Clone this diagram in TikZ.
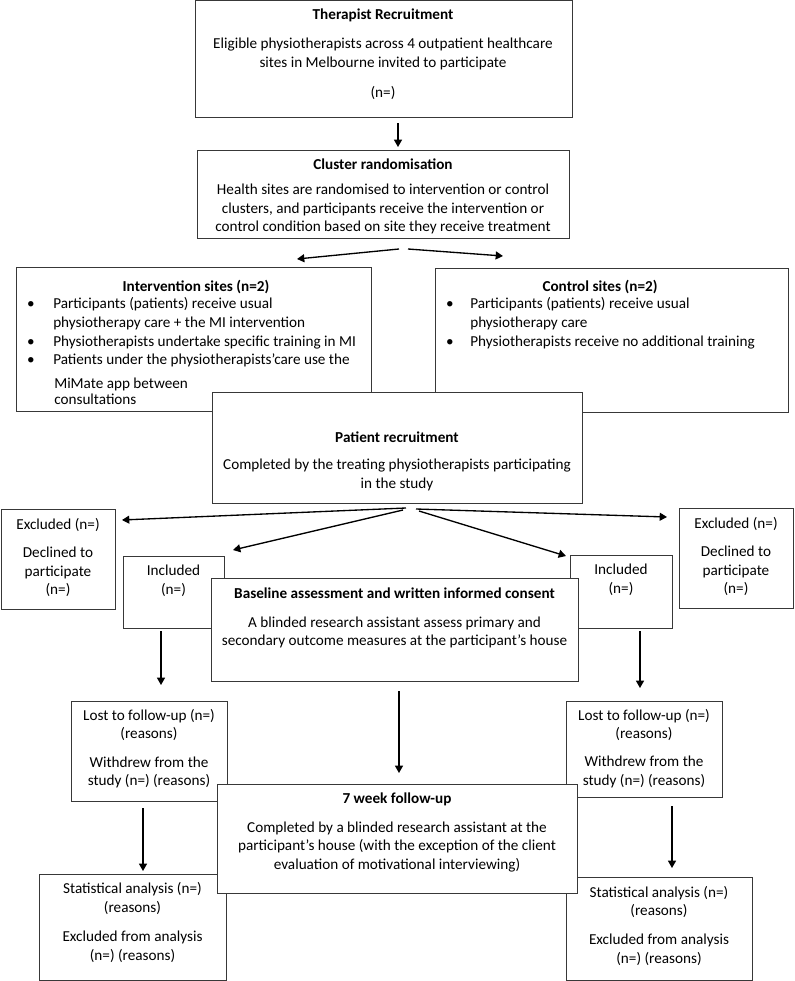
\documentclass[tikz,border=0pt]{standalone}
\usepackage{fontspec}
\setmainfont{Carlito}
\usetikzlibrary{arrows.meta,fit}
\begin{document}
\begin{tikzpicture}[x=0.75pt,y=-0.75pt,
  box/.style={draw=black!78,line width=0.75pt,fill=white,inner sep=0pt},
  txt/.style={font=\fontsize{11.4}{14}\selectfont,align=center,inner sep=0pt},
  ttl/.style={txt,font=\fontsize{11.4}{14}\selectfont\bfseries},
  ln/.style={txt,anchor=west,text height=8pt,text depth=2.5pt},
  bul/.style={txt,text height=8pt,text depth=2.5pt},
  arr/.style={line width=1pt,-{Triangle[length=5.5pt,width=6pt]}}]
\useasboundingbox[fill=white] (0,0) rectangle (794,981);

% Therapist recruitment
\node[box,fit={(195,1) (572,117)}] (tr) {};
\node[ttl] (trT) at (383,15) {Therapist Recruitment};
\node[txt] (trB) at (383,54) {Eligible physiotherapists across 4 outpatient healthcare\\sites in Melbourne invited to participate};
\node[txt] (trN) at (383,93) {(n=)};

% Cluster randomisation
\node[box,fit={(197,150) (569,238)}] (cr) {};
\node[ttl] (crT) at (383,164) {Cluster randomisation};
\node[txt] (crB) at (383,209) {Health sites are randomised to intervention or control\\clusters, and participants receive the intervention or\\control condition based on site they receive treatment};

% Intervention sites
\node[box,fit={(16,267) (371,411)}] (iv) {};
\node[ttl] (ivT) at (196,287) {Intervention sites (n=2)};
\node[bul] (ivb1) at (31,305) {•};
\node[bul] (ivb2) at (31,343) {•};
\node[bul] (ivb3) at (31,361) {•};
\node[ln] (iv1) at (53,305) {Participants (patients) receive usual};
\node[ln] (iv2) at (53,324) {physiotherapy care + the MI intervention};
\node[ln] (iv3) at (53,343) {Physiotherapists undertake specific training in MI};
\node[ln] (iv4) at (53,361) {Patients under the physiotherapists’care use the};
\node[ln] (iv5) at (54,385) {MiMate app between};
\node[ln] (iv6) at (54,401) {consultations};

% Control sites
\node[box,fit={(435,268) (788,412)}] (ct) {};
\node[ttl] (ctT) at (600,287) {Control sites (n=2)};
\node[bul] (ctb1) at (450,305) {•};
\node[bul] (ctb2) at (450,343) {•};
\node[ln] (ct1) at (470,305) {Participants (patients) receive usual};
\node[ln] (ct2) at (470,324) {physiotherapy care};
\node[ln] (ct3) at (470,343) {Physiotherapists receive no additional training};

% Patient recruitment
\node[box,fit={(212,392) (582,503)}] (pr) {};
\node[ttl] (prT) at (397,437) {Patient recruitment};
\node[txt] (prB) at (397,475) {Completed by the treating physiotherapists participating\\in the study};

% Excluded boxes
\node[box,fit={(1,509) (115,609)}] (exl) {};
\node[txt] (exlA) at (58,525) {Excluded (n=)};
\node[txt] (exlB) at (58,572) {Declined to\\participate\\(n=)};
\node[box,fit={(679,508) (793,608)}] (exr) {};
\node[txt] (exrA) at (736,524) {Excluded (n=)};
\node[txt] (exrB) at (736,571) {Declined to\\participate\\(n=)};

% Included boxes
\node[box,fit={(123,556) (224,628)}] (inl) {};
\node[txt] (inlA) at (173.5,580.5) {Included\\(n=)};
\node[box,fit={(570,555) (672,628)}] (inr) {};
\node[txt] (inrA) at (621,580) {Included\\(n=)};

% Baseline
\node[box,fit={(211,578) (578,681)}] (bl) {};
\node[ttl] (blT) at (394.5,593) {Baseline assessment and written informed consent};
\node[txt] (blB) at (394.5,632.5) {A blinded research assistant assess primary and\\secondary outcome measures at the participant’s house};

% Lost to follow-up
\node[box,fit={(71,701) (227,801)}] (lfl) {};
\node[txt] (lflA) at (149,725) {Lost to follow-up (n=)\\(reasons)};
\node[txt] (lflB) at (149,772.5) {Withdrew from the\\study (n=) (reasons)};
\node[box,fit={(566,701) (722,797)}] (lfr) {};
\node[txt] (lfrA) at (644,725) {Lost to follow-up (n=)\\(reasons)};
\node[txt] (lfrB) at (644,772) {Withdrew from the\\study (n=) (reasons)};

% Statistical analysis
\node[box,fit={(39,874) (226,980)}] (sal) {};
\node[txt] (salA) at (132.5,898.5) {Statistical analysis (n=)\\(reasons)};
\node[txt] (salB) at (132.5,946.5) {Excluded from analysis\\(n=) (reasons)};
\node[box,fit={(566,877) (752,980)}] (sar) {};
\node[txt] (sarA) at (659,902) {Statistical analysis (n=)\\(reasons)};
\node[txt] (sarB) at (659,950) {Excluded from analysis\\(n=) (reasons)};

% 7 week follow-up
\node[box,fit={(217,784) (577,893)}] (fw) {};
\node[ttl] (fwT) at (397,799) {7 week follow-up};
\node[txt] (fwB) at (397,847) {Completed by a blinded research assistant at the\\participant’s house (with the exception of the client\\evaluation of motivational interviewing)};

% arrow end points
\coordinate (a1s) at (398,123); \coordinate (a1e) at (398,147);
\coordinate (a2s) at (399,249); \coordinate (a2e) at (297,259);
\coordinate (a3s) at (408,249); \coordinate (a3e) at (503,256);
\coordinate (a4s) at (406,508); \coordinate (a4e) at (122,520);
\coordinate (a5s) at (403,510); \coordinate (a5e) at (233,550);
\coordinate (a6s) at (416,509); \coordinate (a6e) at (667,517);
\coordinate (a7s) at (419,511); \coordinate (a7e) at (566,556);
\coordinate (a8s) at (161,631); \coordinate (a8e) at (161,685);
\coordinate (a9s) at (399,691); \coordinate (a9e) at (399,773);
\coordinate (a10s) at (640,631); \coordinate (a10e) at (640,688);
\coordinate (a11s) at (143,808); \coordinate (a11e) at (143,871);
\coordinate (a12s) at (672,806); \coordinate (a12e) at (672,868);

\foreach \i in {1,...,12} {\draw[arr] (a\i s) -- (a\i e);}
\end{tikzpicture}
\end{document}
